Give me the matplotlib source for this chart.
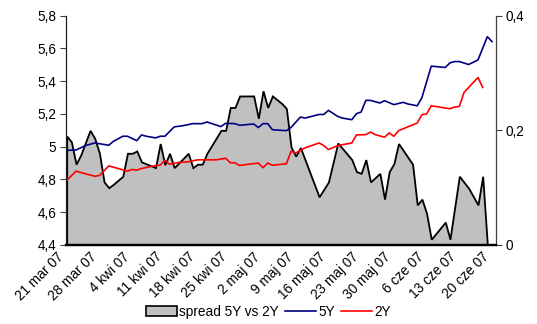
import numpy as np
import matplotlib
matplotlib.use("Agg")
import matplotlib.pyplot as plt
from matplotlib.patches import Patch
from matplotlib.lines import Line2D
import matplotlib.transforms as mtransforms

plt.rcParams['font.family'] = ['Liberation Sans', 'DejaVu Sans']

# ---- data ----
dates_5y = ['2007-03-21', '2007-03-23', '2007-03-25', '2007-03-27', '2007-03-30', '2007-03-31',
            '2007-04-02', '2007-04-03', '2007-04-05', '2007-04-06', '2007-04-07', '2007-04-09',
            '2007-04-10', '2007-04-11', '2007-04-13', '2007-04-15', '2007-04-17', '2007-04-19',
            '2007-04-20', '2007-04-23', '2007-04-24', '2007-04-26', '2007-04-27', '2007-04-30',
            '2007-05-01', '2007-05-02', '2007-05-03', '2007-05-04', '2007-05-06', '2007-05-07',
            '2007-05-08', '2007-05-10', '2007-05-11', '2007-05-14', '2007-05-15', '2007-05-16',
            '2007-05-18', '2007-05-19', '2007-05-21', '2007-05-22', '2007-05-23', '2007-05-24',
            '2007-05-25', '2007-05-27', '2007-05-28', '2007-05-30', '2007-06-01', '2007-06-02',
            '2007-06-04', '2007-06-05', '2007-06-07', '2007-06-10', '2007-06-11', '2007-06-12',
            '2007-06-13', '2007-06-15', '2007-06-17', '2007-06-19', '2007-06-20']
vals_5y = [4.978, 4.980, 5.007, 5.023, 5.009, 5.033,
           5.064, 5.064, 5.037, 5.072, 5.064, 5.054,
           5.064, 5.064, 5.121, 5.129, 5.141, 5.141,
           5.151, 5.123, 5.143, 5.141, 5.131, 5.139,
           5.117, 5.141, 5.141, 5.104, 5.100, 5.098,
           5.118, 5.181, 5.175, 5.197, 5.197, 5.222,
           5.185, 5.175, 5.165, 5.202, 5.212, 5.283,
           5.283, 5.267, 5.281, 5.257, 5.271, 5.261,
           5.250, 5.300, 5.492, 5.484, 5.512, 5.520,
           5.520, 5.502, 5.530, 5.672, 5.642]

dates_2y = ['2007-03-21', '2007-03-23', '2007-03-25', '2007-03-27', '2007-03-28', '2007-03-30',
            '2007-04-01', '2007-04-03', '2007-04-04', '2007-04-05', '2007-04-06', '2007-04-09',
            '2007-04-10', '2007-04-11', '2007-04-12', '2007-04-14', '2007-04-16', '2007-04-18',
            '2007-04-22', '2007-04-24', '2007-04-25', '2007-04-26', '2007-04-27', '2007-04-28',
            '2007-05-01', '2007-05-02', '2007-05-03', '2007-05-04', '2007-05-07', '2007-05-08',
            '2007-05-09', '2007-05-11', '2007-05-14', '2007-05-15', '2007-05-16', '2007-05-18',
            '2007-05-21', '2007-05-22', '2007-05-24', '2007-05-25', '2007-05-26', '2007-05-28',
            '2007-05-29', '2007-05-30', '2007-05-31', '2007-06-04', '2007-06-05', '2007-06-06',
            '2007-06-07', '2007-06-11', '2007-06-12', '2007-06-13', '2007-06-14', '2007-06-17',
            '2007-06-18']
vals_2y = [4.794, 4.851, 4.835, 4.820, 4.824, 4.883,
           4.867, 4.851, 4.861, 4.857, 4.867, 4.885,
           4.887, 4.917, 4.893, 4.904, 4.908, 4.920,
           4.920, 4.930, 4.902, 4.902, 4.885, 4.890,
           4.900, 4.872, 4.900, 4.887, 4.896, 4.972,
           4.962, 4.993, 5.023, 5.007, 4.983, 5.007,
           5.023, 5.072, 5.074, 5.090, 5.074, 5.058,
           5.084, 5.064, 5.098, 5.145, 5.196, 5.200,
           5.250, 5.232, 5.242, 5.246, 5.331, 5.423,
           5.362]

dates_spread = ['2007-03-21', '2007-03-22', '2007-03-23', '2007-03-24', '2007-03-26', '2007-03-27',
                '2007-03-28', '2007-03-29', '2007-03-30', '2007-03-31', '2007-04-02', '2007-04-03',
                '2007-04-04', '2007-04-05', '2007-04-06', '2007-04-09', '2007-04-10', '2007-04-11',
                '2007-04-12', '2007-04-13', '2007-04-16', '2007-04-17', '2007-04-18', '2007-04-19',
                '2007-04-20', '2007-04-23', '2007-04-24', '2007-04-25', '2007-04-26', '2007-04-27',
                '2007-04-30', '2007-05-01', '2007-05-02', '2007-05-03', '2007-05-04', '2007-05-06',
                '2007-05-07', '2007-05-08', '2007-05-09', '2007-05-10', '2007-05-14', '2007-05-16',
                '2007-05-18', '2007-05-21', '2007-05-22', '2007-05-23', '2007-05-24', '2007-05-25',
                '2007-05-27', '2007-05-28', '2007-05-29', '2007-05-30', '2007-05-31', '2007-06-03',
                '2007-06-04', '2007-06-05', '2007-06-06', '2007-06-07', '2007-06-10', '2007-06-11',
                '2007-06-13', '2007-06-15', '2007-06-17', '2007-06-18', '2007-06-19']
vals_spread = [0.190, 0.180, 0.141, 0.157, 0.200, 0.186,
               0.160, 0.110, 0.100, 0.106, 0.120, 0.160,
               0.160, 0.164, 0.145, 0.135, 0.177, 0.140,
               0.160, 0.135, 0.160, 0.135, 0.141, 0.141,
               0.160, 0.200, 0.200, 0.240, 0.240, 0.260,
               0.260, 0.221, 0.269, 0.240, 0.260, 0.247,
               0.238, 0.171, 0.155, 0.170, 0.084, 0.110,
               0.178, 0.149, 0.128, 0.125, 0.149, 0.110,
               0.125, 0.080, 0.128, 0.142, 0.177, 0.141,
               0.070, 0.080, 0.055, 0.010, 0.040, 0.010,
               0.120, 0.099, 0.070, 0.120, 0.000]

tick_dates = ['2007-03-21', '2007-03-28', '2007-04-04', '2007-04-11', '2007-04-18', '2007-04-25',
              '2007-05-02', '2007-05-09', '2007-05-16', '2007-05-23', '2007-05-30', '2007-06-06',
              '2007-06-13', '2007-06-20']
tick_labels = ['21 mar 07', '28 mar 07', '4 kwi 07', '11 kwi 07', '18 kwi 07', '25 kwi 07',
               '2 maj 07', '9 maj 07', '16 maj 07', '23 maj 07', '30 maj 07', '6 cze 07',
               '13 cze 07', '20 cze 07']
left_ticks = [4.4, 4.6, 4.8, 5.0, 5.2, 5.4, 5.6, 5.8]
left_labels = ['4,4', '4,6', '4,8', '5', '5,2', '5,4', '5,6', '5,8']
right_ticks = [0, 0.2, 0.4]
right_labels = ['0', '0,2', '0,4']
legend_labels = ['spread 5Y vs 2Y', '5Y', '2Y']

# ---- figure ----
W, H = 537, 324
fig = plt.figure(figsize=(W / 100, H / 100), dpi=100)
x0, x1, ytop, ybot = 66, 496, 15.7, 245
ax = fig.add_axes([x0 / W, 1 - ybot / H, (x1 - x0) / W, (ybot - ytop) / H])
ax2 = ax.twinx()
ax.set_zorder(ax2.get_zorder() + 1)
ax.patch.set_visible(False)

d5 = np.array(dates_5y, dtype='datetime64[D]')
d2 = np.array(dates_2y, dtype='datetime64[D]')
ds = np.array(dates_spread, dtype='datetime64[D]')

ax2.fill_between(ds, 0, vals_spread, facecolor='#C0C0C0', edgecolor='black',
                 linewidth=1.3, joinstyle='miter')
ax.plot(d5, vals_5y, color='#000080', linewidth=1.2)
ax.plot(d2, vals_2y, color='#FF0000', linewidth=1.2)

start = np.datetime64('2007-03-21T00:00') - np.timedelta64(216, 'm')
end = np.datetime64('2007-06-20T20:24')
ax.set_xlim(start, end)
ax.set_ylim(4.4, 5.8)
ax2.set_ylim(0, 0.4)

ax.set_yticks(left_ticks)
ax.set_yticklabels(left_labels)
ax2.set_yticks(right_ticks)
ax2.set_yticklabels(right_labels)

fs = 9.8
ax.tick_params(axis='y', direction='out', length=4, width=0.8, labelsize=fs, pad=3, color='#404040')
ax2.tick_params(axis='y', direction='out', length=4, width=0.8, labelsize=fs, pad=3, color='#404040')

ax.set_xticks(np.array(tick_dates, dtype='datetime64[D]'))
ax.set_xticklabels(tick_labels)
ax.tick_params(axis='x', length=0, labelsize=fs, pad=2)
offset = mtransforms.ScaledTranslation(-10 / 100, -2 / 100, fig.dpi_scale_trans)
for lab in ax.get_xticklabels():
    lab.set_rotation(45)
    lab.set_ha('right')
    lab.set_va('top')
    lab.set_rotation_mode('anchor')
    lab.set_transform(lab.get_transform() + offset)

for a in (ax, ax2):
    a.spines['top'].set_visible(False)
    a.spines['bottom'].set_linewidth(1.6)
    a.spines['bottom'].set_color('black')
ax.spines['left'].set_color('#202020')
ax.spines['left'].set_linewidth(0.9)
ax.spines['right'].set_visible(False)
ax2.spines['left'].set_visible(False)
ax2.spines['right'].set_color('#404040')
ax2.spines['right'].set_linewidth(0.9)

handles = [Patch(facecolor='#C0C0C0', edgecolor='black', linewidth=1.2),
           Line2D([0], [0], color='#000080', linewidth=1.2),
           Line2D([0], [0], color='#FF0000', linewidth=1.2)]
fig.legend(handles, legend_labels, loc='center', bbox_to_anchor=(268.5 / W, 1 - 311.7 / H),
           ncol=3, frameon=False, fontsize=fs, handlelength=2.3, handletextpad=0.15,
           columnspacing=0.45, borderpad=0, handleheight=0.8)

fig.savefig('out.png', dpi=100)
